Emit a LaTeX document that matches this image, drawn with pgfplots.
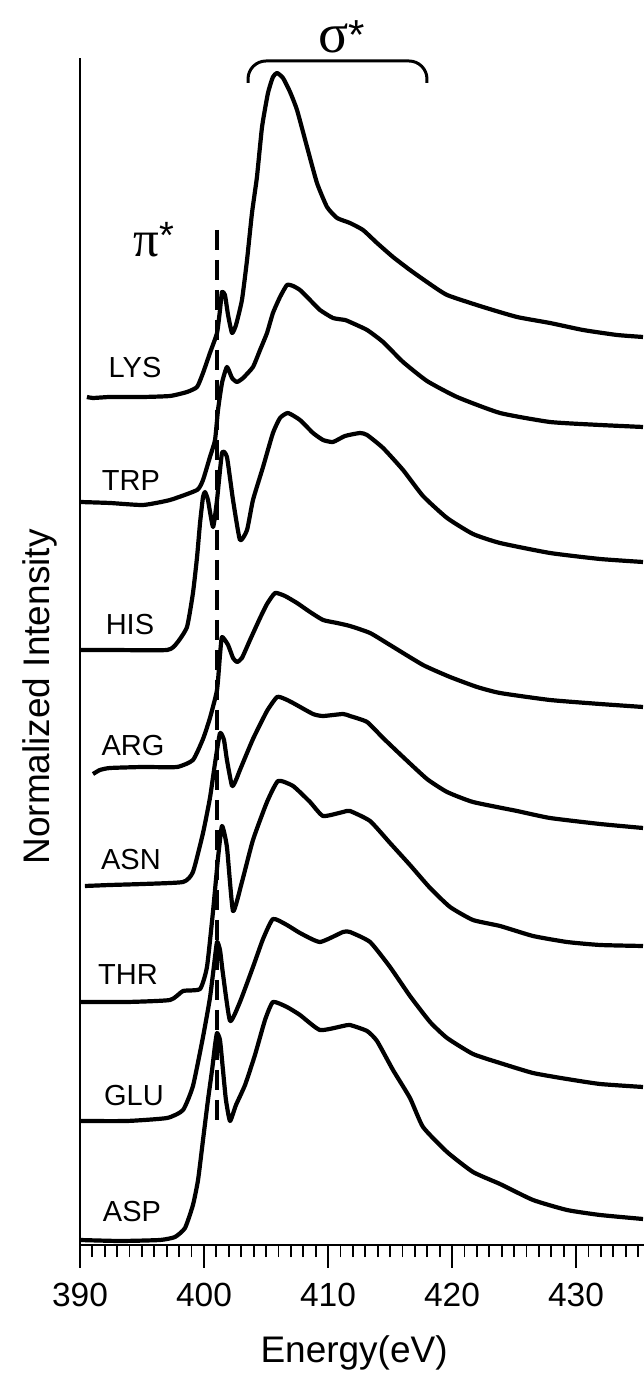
\documentclass[border=0pt]{standalone}
\usepackage{fontspec}
\setmainfont{Liberation Sans}
\newfontfamily\greekfont{Liberation Serif}
\usepackage{pgfplots}
\pgfplotsset{compat=1.18}
\begin{document}
\begin{tikzpicture}
\begin{axis}[
  width=282pt, height=593.5pt, scale only axis,
  xmin=390, xmax=435.48, ymin=0, ymax=11.87,
  axis x line*=bottom, axis y line*=left,
  xtick={390,400,410,420,430},
  minor xtick={391,392,...,435},
  ytick=\empty,
  tick align=outside,
  major tick length=11.5pt, minor tick length=6pt,
  every tick/.style={line width=0.9pt, black},
  every minor tick/.style={line width=0.9pt, black},
  axis line style={line width=1pt},
  tick label style={font=\fontsize{16.75}{20}\selectfont},
  xticklabel style={yshift=-4pt},
  /pgf/number format/assume math mode=true,
  xlabel={Energy(eV)},
  xlabel style={font=\fontsize{18.5}{22}\selectfont, at={(axis description cs:0.486,-0.0994)}, anchor=base},
  ylabel={Normalized Intensity},
  ylabel style={font=\fontsize{18.5}{22}\selectfont, at={(axis description cs:-0.0532,0.4617)}, rotate=0, anchor=base},
  clip=false,
  curve/.style={line width=2.1pt, black, solid, no markers, line join=round, smooth, tension=0.3},
]
% LYS
\addplot[curve] coordinates {(390.56,8.48) (391.05,8.47) (392.42,8.48) (395.08,8.48) (397.26,8.49) (398.63,8.53) (399.44,8.58) (399.92,8.72) (400.48,8.92) (401.05,9.12) (401.29,9.35) (401.45,9.53) (401.69,9.50) (401.94,9.30) (402.26,9.12) (402.58,9.20) (403.06,9.45) (403.47,9.85) (403.87,10.32) (404.27,10.68) (404.68,11.18) (405.16,11.52) (405.56,11.68) (405.89,11.72) (406.37,11.67) (406.94,11.53) (407.50,11.35) (408.31,10.98) (409.11,10.62) (409.92,10.38) (410.73,10.27) (411.77,10.22) (412.82,10.15) (413.95,10.02) (415.24,9.88) (416.61,9.75) (417.98,9.63) (419.60,9.50) (422.50,9.38) (425.24,9.28) (427.90,9.22) (430.56,9.15) (433.31,9.10) (435.40,9.08)};
% TRP
\addplot[curve] coordinates {(390.00,7.43) (392.42,7.42) (395.08,7.40) (397.26,7.45) (399.44,7.55) (399.92,7.65) (400.48,7.88) (400.89,8.05) (401.13,8.35) (401.45,8.62) (401.85,8.78) (402.26,8.67) (402.66,8.63) (403.15,8.67) (403.95,8.78) (404.52,8.95) (405.08,9.12) (405.56,9.32) (406.13,9.48) (406.69,9.60) (407.18,9.59) (407.74,9.55) (408.55,9.45) (409.35,9.35) (410.40,9.27) (411.37,9.25) (411.77,9.23) (413.15,9.15) (414.44,9.03) (416.05,8.83) (417.98,8.64) (420.40,8.48) (423.87,8.32) (427.90,8.23) (431.94,8.20) (435.40,8.18)};
% HIS
\addplot[curve] coordinates {(390.00,5.95) (392.42,5.95) (397.02,5.95) (397.82,6.02) (398.63,6.18) (399.11,6.52) (399.44,6.88) (399.68,7.22) (399.92,7.48) (400.08,7.53) (400.32,7.45) (400.73,7.18) (401.05,7.45) (401.45,7.92) (401.85,7.88) (402.34,7.45) (402.90,7.05) (403.47,7.15) (403.95,7.45) (404.76,7.78) (405.56,8.12) (406.13,8.27) (406.77,8.32) (407.74,8.25) (408.79,8.12) (409.60,8.05) (410.40,8.03) (411.37,8.09) (412.58,8.12) (413.15,8.10) (414.44,7.97) (416.05,7.75) (417.66,7.49) (419.60,7.27) (421.69,7.11) (423.87,7.02) (427.90,6.92) (431.94,6.86) (435.40,6.83)};
% ARG
\addplot[curve] coordinates {(391.05,4.71) (391.61,4.75) (392.42,4.77) (395.08,4.78) (397.82,4.78) (399.11,4.85) (399.92,5.06) (400.48,5.27) (401.05,5.55) (401.29,5.90) (401.45,6.08) (401.94,6.00) (402.34,5.87) (402.66,5.83) (403.06,5.87) (403.71,6.05) (404.52,6.27) (405.08,6.41) (405.73,6.52) (406.53,6.49) (407.50,6.42) (408.55,6.33) (409.60,6.25) (410.73,6.22) (411.77,6.19) (413.39,6.12) (415.00,6.00) (417.66,5.80) (419.84,5.68) (422.02,5.58) (423.87,5.52) (427.90,5.45) (431.94,5.41) (435.40,5.38)};
% ASN
\addplot[curve] coordinates {(390.40,3.59) (392.42,3.60) (395.08,3.61) (398.31,3.63) (399.11,3.73) (399.92,4.12) (400.48,4.47) (400.89,4.82) (401.29,5.12) (401.61,5.05) (401.85,4.85) (402.26,4.59) (402.58,4.65) (402.90,4.75) (403.95,5.06) (405.08,5.34) (405.89,5.48) (406.53,5.46) (407.18,5.42) (408.79,5.31) (409.60,5.29) (411.21,5.31) (411.77,5.29) (413.15,5.23) (414.44,5.07) (416.05,4.88) (417.98,4.66) (419.60,4.53) (421.69,4.43) (425.24,4.34) (427.90,4.27) (431.94,4.21) (435.40,4.17)};
% THR
\addplot[curve] coordinates {(390.00,2.43) (393.79,2.43) (397.26,2.45) (398.31,2.54) (399.68,2.56) (400.24,2.78) (400.73,3.34) (401.13,3.87) (401.45,4.19) (401.85,3.98) (402.34,3.34) (403.06,3.63) (403.95,4.05) (405.08,4.43) (405.97,4.64) (407.18,4.59) (408.55,4.43) (409.60,4.29) (411.21,4.33) (411.77,4.34) (413.39,4.24) (415.00,4.02) (416.61,3.80) (418.23,3.57) (419.84,3.38) (421.69,3.25) (423.87,3.19) (426.53,3.09) (429.27,3.03) (431.94,3.00) (435.40,2.99)};
% GLU
\addplot[curve] coordinates {(390.00,1.24) (393.79,1.24) (397.02,1.27) (398.31,1.35) (399.11,1.59) (399.92,2.08) (400.48,2.47) (400.81,2.80) (401.05,3.03) (401.29,2.95) (401.53,2.71) (402.10,2.24) (402.90,2.43) (403.95,2.78) (404.76,3.06) (405.56,3.26) (406.69,3.20) (407.74,3.12) (409.35,3.03) (411.21,3.13) (411.77,3.13) (413.39,3.03) (415.00,2.78) (416.61,2.49) (418.23,2.23) (419.60,2.07) (421.69,1.91) (423.87,1.82) (426.53,1.72) (429.27,1.66) (431.94,1.61) (435.40,1.58)};
% ASP
\addplot[curve] coordinates {(390.00,0.05) (393.23,0.04) (396.45,0.05) (397.66,0.08) (398.47,0.17) (399.11,0.40) (399.52,0.65) (399.92,1.05) (400.32,1.45) (400.65,1.75) (400.89,2.00) (401.05,2.12) (401.29,2.05) (401.53,1.75) (401.77,1.45) (402.10,1.24) (402.58,1.40) (403.31,1.60) (404.11,1.90) (404.92,2.25) (405.56,2.43) (406.69,2.38) (407.74,2.30) (409.35,2.15) (411.21,2.19) (411.77,2.20) (413.15,2.14) (413.95,2.04) (415.24,1.75) (416.61,1.47) (417.66,1.18) (419.60,0.93) (421.69,0.73) (423.87,0.61) (426.53,0.45) (429.27,0.35) (431.94,0.30) (435.40,0.26)};
% pi* reference line
\addplot[black, line width=1.6pt, dash pattern=on 10pt off 5pt, sharp plot, no markers] coordinates {(401.05,10.15) (401.05,1.25)};
% sample labels
\begin{scope}[every node/.style={font=\fontsize{14.5}{17}\selectfont, anchor=center}]
\node at (axis cs:394.44,8.77) {LYS};
\node at (axis cs:394.11,7.64) {TRP};
\node at (axis cs:394.03,6.20) {HIS};
\node at (axis cs:394.27,4.99) {ARG};
\node at (axis cs:394.11,3.85) {ASN};
\node at (axis cs:393.87,2.70) {THR};
\node at (axis cs:394.35,1.49) {GLU};
\node at (axis cs:394.19,0.33) {ASP};
\end{scope}
\node[anchor=base west, inner sep=0pt] at (axis cs:394.27,9.88) {\fontsize{25.5}{30}\selectfont\greekfont π\raisebox{4pt}{\fontsize{19}{22}\selectfont\rmfamily *}};
\node[anchor=base west, inner sep=0pt] at (axis cs:409.19,11.92) {\fontsize{28}{32}\selectfont\greekfont σ\raisebox{1.5pt}{\fontsize{21}{24}\selectfont\rmfamily *}};
\draw[line width=1.5pt, rounded corners=9pt] (axis cs:403.55,11.62) |- (axis cs:417.98,11.84) -- (axis cs:417.98,11.62);
\coordinate (bbBL) at (axis cs:383.55,-1.30);
\coordinate (bbTR) at (axis cs:435.48,12.45);
\end{axis}
\pgfresetboundingbox
\path[use as bounding box] (bbBL) rectangle (bbTR);
\end{tikzpicture}
\end{document}
